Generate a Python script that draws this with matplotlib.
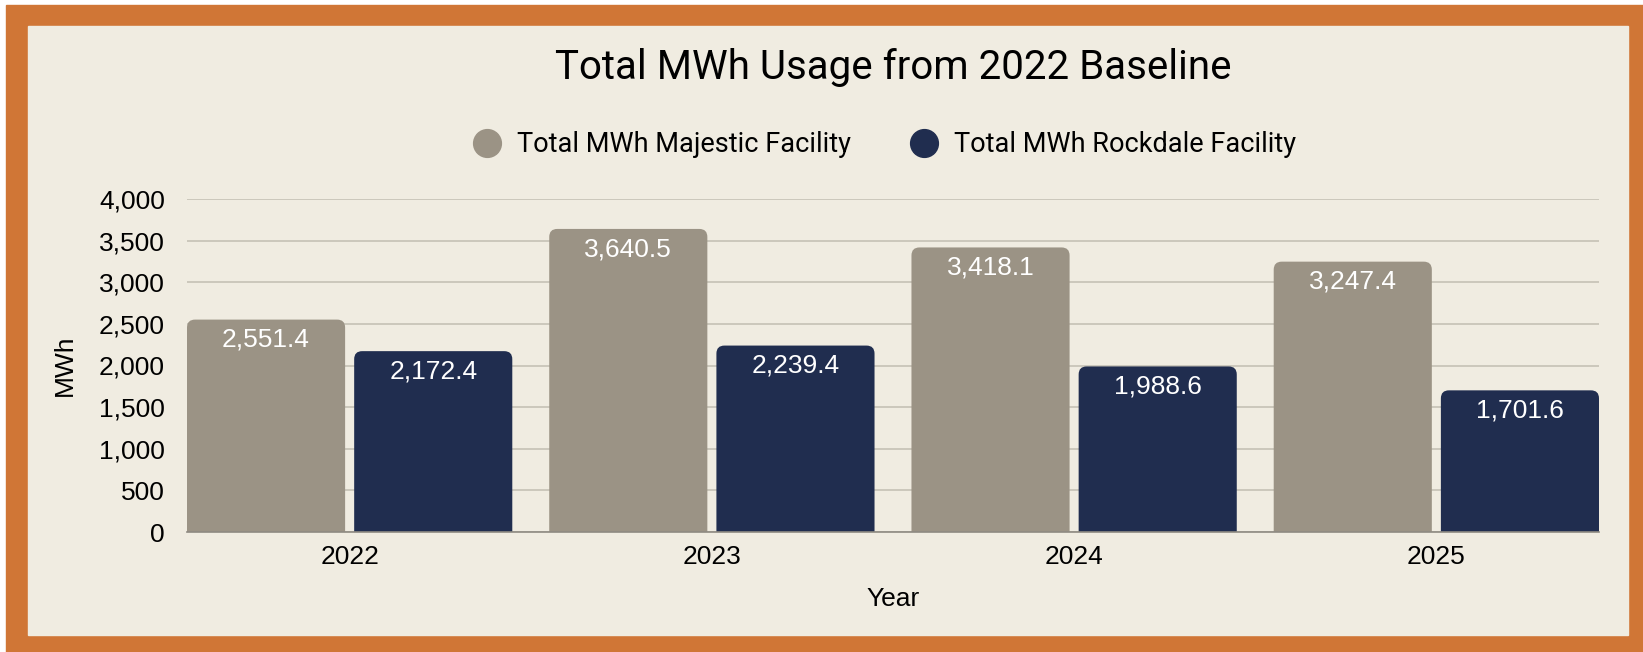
import matplotlib.pyplot as plt
import matplotlib as mpl
from matplotlib.patches import Rectangle, FancyBboxPatch
from matplotlib.lines import Line2D
from matplotlib.ticker import FuncFormatter

years = ["2022", "2023", "2024", "2025"]
majestic = [2551.4, 3640.5, 3418.1, 3247.4]
rockdale = [2172.4, 2239.4, 1988.6, 1701.6]
series_names = ["Total MWh Majestic Facility", "Total MWh Rockdale Facility"]
colors = ["#9B9385", "#202D4F"]

W, H = 1643, 652
BORDER = "#D07636"
BG = "#F0ECE1"
GRID = "#C9C5B9"

mpl.rc('font', family=['Liberation Sans', 'DejaVu Sans'])
cond = ['Roboto', 'DejaVu Sans']

fig = plt.figure(figsize=(W / 100, H / 100), dpi=100, facecolor="white")

# orange frame + beige panel (pixel coords)
fig.patches.append(Rectangle((6 / W, 0), (W - 6) / W, (H - 5) / H,
                             transform=fig.transFigure, color=BORDER, zorder=-2))
fig.patches.append(Rectangle((28 / W, 17 / H), 1600 / W, 609 / H,
                             transform=fig.transFigure, color=BG, zorder=-1))

ax_l, ax_r, ax_b, ax_t = 187, 1599, 120, 453
ax = fig.add_axes([ax_l / W, ax_b / H, (ax_r - ax_l) / W, (ax_t - ax_b) / H])
ax.set_facecolor("none")

bw, gap = 0.4365, 0.025
xmin, xmax = -0.449, 3.449
ymin, ymax = 0, 4000
ax.set_xlim(xmin, xmax)
ax.set_ylim(ymin, ymax)

x = range(len(years))
offs = [-(bw + gap) / 2, (bw + gap) / 2]

# aspect for round corners: y-units per pixel / x-units per pixel
aspect = ((ymax - ymin) / (ax_t - ax_b)) / ((xmax - xmin) / (ax_r - ax_l))
rad = 8 * (xmax - xmin) / (ax_r - ax_l)

for vals, off, col in zip([majestic, rockdale], offs, colors):
    bars = ax.bar([i + off for i in x], vals, width=bw, color=col)
    for b, v in zip(bars, vals):
        b.set_visible(False)
        extra = 300
        p = FancyBboxPatch((b.get_x(), -extra), b.get_width(), v + extra,
                           boxstyle=f"round,pad=0,rounding_size={rad}",
                           mutation_aspect=aspect, fc=col, ec="none", zorder=3)
        ax.add_patch(p)
        ax.annotate(f"{v:,.1f}", (b.get_x() + b.get_width() / 2, v),
                    xytext=(0, -6), textcoords="offset points",
                    ha="center", va="top", color="white", fontsize=19, zorder=4)

ax.set_yticks(range(0, 4001, 500))
ax.yaxis.set_major_formatter(FuncFormatter(lambda v, p: f"{v:,.0f}"))
ax.set_xticks(list(x))
ax.set_xticklabels(years)
ax.tick_params(axis="both", length=0, labelsize=19)
ax.tick_params(axis="y", pad=16)
ax.tick_params(axis="x", pad=9)
ax.grid(axis="y", color=GRID, lw=1.3, zorder=0)
ax.set_axisbelow(True)
for s in ["left", "right", "top"]:
    ax.spines[s].set_visible(False)
ax.spines["bottom"].set_color("#8E8A82")
ax.spines["bottom"].set_linewidth(1.2)
ax.spines["bottom"].set_zorder(5)

ax.set_ylabel("MWh", fontsize=19, rotation=90, va="center", ha="center")
ax.yaxis.set_label_coords((65 - ax_l) / (ax_r - ax_l), 0.5)
ax.set_xlabel("Year", fontsize=19, va="center", ha="center")
ax.xaxis.set_label_coords(0.5, -(599 - (H - ax_b)) / (ax_t - ax_b))

fig.text(893 / W, 1 - 79 / H, "Total MWh Usage from 2022 Baseline",
         ha="center", va="baseline", fontsize=29, family=cond)

handles = [Line2D([], [], ls="none", marker="o", ms=20, mfc=c, mec=c) for c in colors]
fig.legend(handles, series_names, loc="center", bbox_to_anchor=(885 / W, 1 - 145 / H),
           ncol=2, frameon=False, prop={"family": cond, "size": 19.5},
           handletextpad=0.6, columnspacing=2.2, handlelength=1.0)

fig.savefig("out.png", dpi=100, facecolor="white")
